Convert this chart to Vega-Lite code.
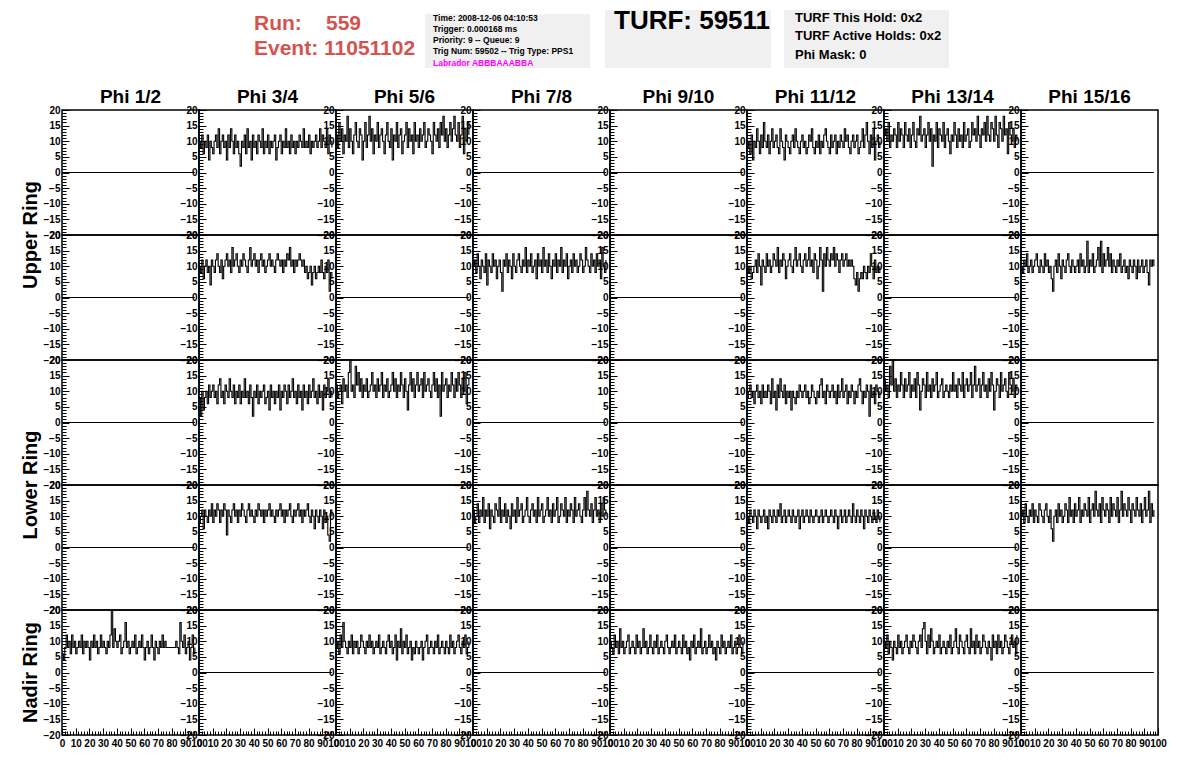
{
  "$schema": "https://vega.github.io/schema/vega-lite/v6.json",
  "padding": 0,
  "background": "white",
  "spacing": 0,
  "bounds": "flush",
  "config": {
    "font": "Liberation Sans",
    "view": {"stroke": "black", "strokeWidth": 1.5}
  },
  "datasets": {
    "xs": [
      {"k": 1, "x": [0,1,2,3,4,5,6,7,8,9,10,11,12,13,14,15,16,17,18,19,20,21,22,23,24,25,26,27,28,29,30,31,32,33,34,35,36,37,38,39,40,41,42,43,44,45,46,47,48,49,50,51,52,53,54,55,56,57,58,59,60,61,62,63,64,65,66,67,68,69,70,71,72,73,74,75,76,77,78,79,80,81,82,83,84,85,86,87,88,89,90,91,92,93,94,95,96,97]},
      {"k": 2, "x": [0, 97]}
    ],
    "panels": [
      {"r": 1, "phi": "Phi 1/2", "k": 2, "y": [0, 0]},
      {"r": 1, "phi": "Phi 3/4", "k": 1, "y": [10,8,12,6,10,8,12,4,10,8,6,10,12,8,14,6,10,12,8,10,4,12,8,14,10,6,12,8,10,6,2,10,8,12,6,14,8,10,4,12,8,10,6,12,10,8,14,6,10,8,12,6,10,8,10,12,4,8,10,12,6,10,8,14,8,10,6,12,8,10,6,10,8,12,10,8,14,8,10,8,12,6,10,8,10,12,8,10,14,8,12,10,8,14,6,12,10,8]},
      {"r": 1, "phi": "Phi 5/6", "k": 1, "y": [12,8,16,10,14,6,12,10,18,8,14,10,6,12,16,10,8,14,12,4,10,16,8,12,18,10,14,6,12,10,16,8,12,14,10,6,12,16,10,8,14,4,12,10,16,8,12,14,6,10,12,16,8,14,10,12,6,16,10,12,8,14,10,12,16,8,10,14,12,10,6,16,12,10,14,8,16,12,18,10,14,8,12,16,10,14,18,12,10,16,8,12,18,6,14,10,16,12]},
      {"r": 1, "phi": "Phi 7/8", "k": 2, "y": [0, 0]},
      {"r": 1, "phi": "Phi 9/10", "k": 2, "y": [0, 0]},
      {"r": 1, "phi": "Phi 11/12", "k": 1, "y": [8,10,6,12,4,10,8,14,10,6,12,8,16,10,8,12,6,10,14,8,10,12,8,6,14,10,8,4,12,10,8,6,10,12,8,14,10,8,6,10,12,8,10,6,8,12,10,14,8,6,10,8,12,6,10,8,12,14,10,8,6,12,8,10,12,6,10,8,12,10,8,14,10,12,8,6,10,12,8,10,12,6,8,10,14,8,12,16,10,6,12,8,14,4,10,12,8,10]},
      {"r": 1, "phi": "Phi 13/14", "k": 1, "y": [12,14,10,16,8,12,10,14,12,8,16,10,14,12,8,16,12,10,14,8,12,16,10,8,14,12,18,10,12,14,8,12,16,10,14,2,12,10,16,8,14,12,10,16,8,12,14,10,6,12,10,16,12,8,14,10,12,8,16,10,12,14,8,10,16,12,14,10,18,12,8,14,12,16,10,18,12,10,16,14,10,18,12,8,16,14,10,18,12,14,6,16,12,10,14,8,12,10]},
      {"r": 1, "phi": "Phi 15/16", "k": 2, "y": [0, 0]},

      {"r": 2, "phi": "Phi 1/2", "k": 2, "y": [0, 0]},
      {"r": 2, "phi": "Phi 3/4", "k": 1, "y": [10,8,12,6,10,12,8,10,4,12,10,8,12,14,10,8,12,6,10,12,14,10,12,8,16,10,12,14,10,8,12,10,14,12,10,8,12,16,10,12,14,10,12,8,12,14,10,12,8,10,12,14,10,12,10,8,12,14,12,10,12,8,12,10,14,12,16,10,12,8,12,10,12,14,12,10,12,8,10,6,8,10,4,8,10,6,8,10,8,12,8,6,10,8,12,2,8,6]},
      {"r": 2, "phi": "Phi 5/6", "k": 2, "y": [0, 0]},
      {"r": 2, "phi": "Phi 7/8", "k": 1, "y": [10,12,8,14,10,6,12,10,8,14,4,12,10,8,14,10,12,6,10,12,8,2,12,10,14,8,12,10,6,14,10,8,12,14,10,8,12,10,16,8,12,10,14,8,10,12,6,14,10,12,8,16,10,12,8,14,10,6,12,10,14,8,12,10,16,8,12,10,14,6,10,12,8,14,10,12,8,10,14,12,8,10,16,12,10,8,14,10,12,8,14,10,12,6,16,10,8,12]},
      {"r": 2, "phi": "Phi 9/10", "k": 2, "y": [0, 0]},
      {"r": 2, "phi": "Phi 11/12", "k": 1, "y": [10,8,10,6,8,10,12,8,14,10,4,12,10,8,14,10,12,8,10,14,12,10,16,8,12,10,14,12,6,10,12,14,10,8,12,16,10,12,14,10,8,12,14,10,12,16,10,12,8,14,12,6,10,16,12,2,14,10,16,12,10,14,12,16,10,14,12,8,12,14,10,12,14,10,12,10,12,10,6,4,8,2,6,8,6,10,8,6,10,8,14,10,6,12,8,10,8,10]},
      {"r": 2, "phi": "Phi 13/14", "k": 2, "y": [0, 0]},
      {"r": 2, "phi": "Phi 15/16", "k": 1, "y": [10,8,12,10,14,8,10,12,8,10,12,14,10,8,12,10,8,14,10,12,8,10,6,2,10,12,8,14,10,6,12,10,8,12,14,10,8,12,10,8,10,12,8,14,10,12,8,10,18,8,12,10,14,8,10,12,16,10,18,8,14,10,12,16,10,14,8,12,10,8,12,10,14,8,10,12,8,10,6,12,10,8,12,10,6,12,8,10,12,8,10,12,8,4,12,10,12,10]},

      {"r": 3, "phi": "Phi 1/2", "k": 2, "y": [0, 0]},
      {"r": 3, "phi": "Phi 3/4", "k": 1, "y": [8,2,10,4,8,10,6,12,8,10,12,8,10,6,12,14,8,10,6,12,10,8,14,10,8,12,6,10,8,12,6,10,8,14,8,10,6,12,8,2,10,8,12,6,10,8,10,12,6,8,10,4,12,8,10,6,10,8,12,4,10,8,12,10,6,12,8,10,14,8,10,6,12,8,10,4,12,8,10,6,12,8,10,14,8,10,6,12,8,10,4,12,8,10,14,8,10,8]},
      {"r": 3, "phi": "Phi 5/6", "k": 1, "y": [12,8,10,12,6,14,10,12,8,16,20,10,12,8,18,12,16,10,14,8,12,10,14,8,10,12,16,10,12,8,14,10,12,16,8,12,10,14,8,10,12,16,10,14,8,12,10,16,12,8,14,10,4,12,16,10,14,8,12,16,10,12,14,8,16,10,12,14,10,8,12,16,10,14,8,12,2,16,10,12,14,8,12,10,16,12,8,14,10,16,12,8,14,10,16,6,12,14]},
      {"r": 3, "phi": "Phi 7/8", "k": 2, "y": [0, 0]},
      {"r": 3, "phi": "Phi 9/10", "k": 2, "y": [0, 0]},
      {"r": 3, "phi": "Phi 11/12", "k": 1, "y": [8,10,12,8,10,6,10,12,8,10,6,12,8,10,8,12,10,6,14,8,10,4,12,8,14,10,8,12,6,10,8,10,4,10,8,6,10,8,12,10,8,10,12,8,10,6,8,12,10,8,6,10,8,12,14,8,10,6,12,10,8,10,12,8,10,6,12,8,10,14,8,10,12,6,10,8,12,10,6,10,8,12,14,10,6,10,8,12,10,2,12,8,10,6,12,10,8,10]},
      {"r": 3, "phi": "Phi 13/14", "k": 1, "y": [14,10,12,8,18,12,20,10,14,8,12,10,16,12,8,14,10,12,16,8,12,10,14,8,16,12,4,10,14,12,8,16,10,12,8,14,10,12,16,8,10,12,14,8,10,12,10,8,12,10,16,10,12,8,14,12,10,16,8,12,14,10,12,16,8,12,18,10,12,14,8,12,16,10,12,8,14,10,16,12,4,10,14,12,8,16,10,12,14,10,8,16,12,10,14,8,12,10]},
      {"r": 3, "phi": "Phi 15/16", "k": 2, "y": [0, 0]},

      {"r": 4, "phi": "Phi 1/2", "k": 2, "y": [0, 0]},
      {"r": 4, "phi": "Phi 3/4", "k": 1, "y": [8,10,12,6,12,10,8,12,10,14,8,12,10,14,12,8,12,10,14,12,4,12,10,8,12,14,10,12,8,12,10,14,12,10,8,12,14,10,12,10,8,12,10,14,12,10,12,8,12,10,12,14,10,12,10,8,12,10,12,14,10,12,8,12,10,12,14,10,8,12,10,12,14,10,12,8,12,10,12,14,10,8,12,10,6,12,10,8,12,10,6,12,8,10,4,2,12,10]},
      {"r": 4, "phi": "Phi 5/6", "k": 2, "y": [0, 0]},
      {"r": 4, "phi": "Phi 7/8", "k": 1, "y": [12,8,10,14,8,12,10,16,8,12,10,14,6,12,10,8,14,12,10,16,8,12,10,14,8,12,10,6,14,10,12,8,16,10,12,14,8,10,12,16,10,8,12,14,10,12,8,16,10,12,14,8,10,12,16,10,12,8,14,10,12,16,8,10,14,12,10,16,8,12,10,14,12,8,16,10,12,14,10,8,12,16,10,18,12,10,14,8,12,16,10,12,8,14,10,16,12,10]},
      {"r": 4, "phi": "Phi 9/10", "k": 2, "y": [0, 0]},
      {"r": 4, "phi": "Phi 11/12", "k": 1, "y": [10,8,12,10,8,12,10,6,12,10,8,10,12,8,10,6,12,10,8,12,10,8,12,10,14,8,10,12,8,10,12,10,8,12,10,8,10,12,6,10,12,8,10,12,10,8,12,10,8,10,12,10,8,10,12,8,10,12,10,8,10,12,10,8,12,10,6,10,12,8,10,12,8,10,12,10,8,14,10,8,12,10,8,12,10,6,12,10,8,12,10,8,12,10,8,12,10,8]},
      {"r": 4, "phi": "Phi 13/14", "k": 2, "y": [0, 0]},
      {"r": 4, "phi": "Phi 15/16", "k": 1, "y": [10,12,8,14,10,8,12,10,14,8,12,10,8,14,12,10,8,12,14,10,8,12,6,2,10,12,8,14,10,12,8,10,14,12,8,16,10,12,8,14,10,12,16,8,12,10,14,12,10,16,8,12,14,10,18,12,10,14,8,16,12,10,14,12,8,16,10,14,12,10,16,8,12,18,10,14,12,10,16,12,8,14,12,10,16,12,10,14,8,12,16,10,12,18,8,14,10,12]},

      {"r": 5, "phi": "Phi 1/2", "k": 1, "y": [6,4,8,12,8,10,6,12,8,10,6,8,10,8,12,6,10,8,10,8,4,10,8,12,8,10,6,8,12,8,10,8,6,10,8,12,20,8,14,10,8,10,12,6,8,10,16,8,10,6,8,10,8,12,6,8,10,8,12,8,4,8,10,6,8,12,8,4,10,8,6,10,8,12,8,10,8,8,8,8,8,8,8,10,8,6,16,10,8,12,6,8,10,4,8,12,6,8]},
      {"r": 5, "phi": "Phi 3/4", "k": 2, "y": [0, 0]},
      {"r": 5, "phi": "Phi 5/6", "k": 1, "y": [8,10,6,12,8,16,10,8,6,10,8,12,6,10,8,10,6,8,12,10,8,6,10,8,12,8,10,6,8,10,8,12,6,8,10,8,6,10,12,8,10,6,8,12,4,10,8,14,6,10,8,12,6,8,10,4,8,6,10,8,6,8,10,4,8,10,12,6,8,10,8,6,10,8,12,6,8,10,8,6,10,8,6,12,8,10,6,8,10,12,8,6,10,8,12,6,8,10]},
      {"r": 5, "phi": "Phi 7/8", "k": 2, "y": [0, 0]},
      {"r": 5, "phi": "Phi 9/10", "k": 1, "y": [10,8,6,12,8,10,6,14,8,10,6,8,10,12,6,8,10,8,6,12,8,10,6,8,14,8,10,6,8,12,8,6,10,8,12,6,8,10,8,6,10,12,8,6,8,10,8,12,6,8,10,8,6,12,8,10,6,8,4,10,8,12,6,8,10,8,14,6,8,10,6,8,12,8,10,6,8,4,10,8,6,12,8,10,6,8,10,8,12,6,8,10,6,8,12,8,6,10]},
      {"r": 5, "phi": "Phi 11/12", "k": 2, "y": [0, 0]},
      {"r": 5, "phi": "Phi 13/14", "k": 1, "y": [10,8,12,6,10,8,4,10,8,6,12,8,10,6,8,10,12,8,6,10,8,12,10,8,6,10,12,8,14,16,10,6,12,8,14,10,6,8,10,8,12,6,8,10,8,6,10,8,12,6,8,10,14,8,6,12,10,8,6,10,12,8,6,14,8,10,6,12,8,10,6,8,12,10,8,6,10,8,4,12,8,10,6,12,8,10,6,8,12,10,8,6,10,12,8,10,6,12]},
      {"r": 5, "phi": "Phi 15/16", "k": 2, "y": [0, 0]}
    ]
  },
  "vconcat": [
    {
      "width": 1196,
      "height": 110,
      "view": {"stroke": null},
      "data": {"values": [{"n": 1}]},
      "layer": [
        {"mark": {"type": "rect", "color": "#f0f0f0"},
         "encoding": {
           "x": {"datum": 425, "type": "quantitative", "scale": {"domain": [0, 1196], "nice": false, "zero": false}, "axis": null},
           "x2": {"datum": 590},
           "y": {"datum": 14, "type": "quantitative", "scale": {"domain": [0, 110], "nice": false, "zero": false, "reverse": true}, "axis": null},
           "y2": {"datum": 68}}},
        {"mark": {"type": "rect", "color": "#f0f0f0"},
         "encoding": {"x": {"datum": 605, "type": "quantitative", "axis": null}, "x2": {"datum": 771}, "y": {"datum": 10, "type": "quantitative", "axis": null}, "y2": {"datum": 68}}},
        {"mark": {"type": "rect", "color": "#f0f0f0"},
         "encoding": {"x": {"datum": 784, "type": "quantitative", "axis": null}, "x2": {"datum": 949}, "y": {"datum": 10, "type": "quantitative", "axis": null}, "y2": {"datum": 68}}},
        {"mark": {"type": "text", "text": "Run:", "fontSize": 21, "fontWeight": "bold", "color": "#d5534e", "align": "left", "baseline": "alphabetic"},
         "encoding": {"x": {"datum": 254, "type": "quantitative", "axis": null}, "y": {"datum": 30, "type": "quantitative", "axis": null}}},
        {"mark": {"type": "text", "text": "559", "fontSize": 21, "fontWeight": "bold", "color": "#d5534e", "align": "left", "baseline": "alphabetic"},
         "encoding": {"x": {"datum": 326, "type": "quantitative", "axis": null}, "y": {"datum": 30, "type": "quantitative", "axis": null}}},
        {"mark": {"type": "text", "text": "Event: 11051102", "fontSize": 21, "fontWeight": "bold", "color": "#d5534e", "align": "left", "baseline": "alphabetic"},
         "encoding": {"x": {"datum": 254, "type": "quantitative", "axis": null}, "y": {"datum": 55, "type": "quantitative", "axis": null}}},
        {"mark": {"type": "text", "text": ["Time: 2008-12-06 04:10:53", "Trigger: 0.000168 ms", "Priority: 9 -- Queue: 9", "Trig Num: 59502 -- Trig Type: PPS1"], "lineHeight": 11.3, "fontSize": 8.5, "fontWeight": "bold", "color": "black", "align": "left", "baseline": "alphabetic"},
         "encoding": {"x": {"datum": 433, "type": "quantitative", "axis": null}, "y": {"datum": 20.5, "type": "quantitative", "axis": null}}},
        {"mark": {"type": "text", "text": "Labrador ABBBAAABBA", "fontSize": 8.5, "fontWeight": "bold", "color": "#ff00ff", "align": "left", "baseline": "alphabetic"},
         "encoding": {"x": {"datum": 433, "type": "quantitative", "axis": null}, "y": {"datum": 65.5, "type": "quantitative", "axis": null}}},
        {"mark": {"type": "text", "text": "TURF: 59511", "fontSize": 26, "fontWeight": "bold", "color": "black", "align": "left", "baseline": "alphabetic"},
         "encoding": {"x": {"datum": 614, "type": "quantitative", "axis": null}, "y": {"datum": 28.5, "type": "quantitative", "axis": null}}},
        {"mark": {"type": "text", "text": ["TURF This Hold: 0x2", "TURF Active Holds: 0x2", "Phi Mask: 0"], "lineHeight": 18.5, "fontSize": 13, "fontWeight": "bold", "color": "black", "align": "left", "baseline": "alphabetic"},
         "encoding": {"x": {"datum": 795, "type": "quantitative", "axis": null}, "y": {"datum": 21.5, "type": "quantitative", "axis": null}}}
      ]
    },
    {
      "hconcat": [
        {
          "width": 62,
          "height": 625,
          "view": {"stroke": null},
          "data": {"values": [{"t": "Upper Ring", "p": 1}, {"t": "Lower Ring", "p": 3}, {"t": "Nadir Ring", "p": 4.5}]},
          "mark": {"type": "text", "angle": 270, "fontSize": 20, "fontWeight": "bold", "align": "center", "baseline": "middle", "color": "black"},
          "encoding": {
            "y": {"field": "p", "type": "quantitative", "scale": {"domain": [0, 5], "reverse": true, "nice": false, "zero": false}, "axis": null},
            "x": {"datum": 0.5, "type": "quantitative", "scale": {"domain": [0, 1], "nice": false}, "axis": null},
            "text": {"field": "t"}
          }
        },
        {
          "data": {"name": "panels"},
          "transform": [
            {"lookup": "k", "from": {"data": {"name": "xs"}, "key": "k", "fields": ["x"]}},
            {"flatten": ["x", "y"]}
          ],
          "facet": {
            "row": {"field": "r", "type": "ordinal", "header": null},
            "column": {"field": "phi", "type": "ordinal",
              "sort": ["Phi 1/2", "Phi 3/4", "Phi 5/6", "Phi 7/8", "Phi 9/10", "Phi 11/12", "Phi 13/14", "Phi 15/16"],
              "header": {"title": null, "labelFontSize": 19, "labelFontWeight": "bold", "labelFont": "Liberation Sans", "labelColor": "black", "labelPadding": 3}}
          },
          "spacing": 0,
          "bounds": "flush",
          "resolve": {"axis": {"y": "independent"}},
          "spec": {
            "width": 137,
            "height": 125,
            "mark": {"type": "line", "interpolate": "step-after", "color": "black", "strokeWidth": 1.1},
            "encoding": {
              "x": {"field": "x", "type": "quantitative",
                "scale": {"domain": [0, 100], "nice": false, "zero": false},
                "axis": {
                  "values": [0,2,4,6,8,10,12,14,16,18,20,22,24,26,28,30,32,34,36,38,40,42,44,46,48,50,52,54,56,58,60,62,64,66,68,70,72,74,76,78,80,82,84,86,88,90,92,94,96,98,100],
                  "labelExpr": "datum.value % 10 === 0 ? datum.label : ''",
                  "tickSize": {"condition": {"test": "datum.value % 10 === 0", "value": -7}, "value": -4},
                  "tickColor": "black", "domain": false, "grid": false, "title": null,
                  "labelFont": "Liberation Sans", "labelFontSize": 10, "labelFontWeight": "bold", "labelColor": "black",
                  "labelPadding": 10, "labelOverlap": false, "labelFlush": false, "labelBound": false
                }},
              "y": {"field": "y", "type": "quantitative",
                "scale": {"domain": [-20, 20], "nice": false, "zero": false},
                "axis": {
                  "values": [-20,-19,-18,-17,-16,-15,-14,-13,-12,-11,-10,-9,-8,-7,-6,-5,-4,-3,-2,-1,0,1,2,3,4,5,6,7,8,9,10,11,12,13,14,15,16,17,18,19,20],
                  "labelExpr": "datum.value % 5 === 0 ? datum.label : ''",
                  "tickSize": {"condition": {"test": "datum.value % 5 === 0", "value": -7}, "value": -4},
                  "tickColor": "black", "domain": false, "grid": false, "title": null,
                  "labelFont": "Liberation Sans", "labelFontSize": 10, "labelFontWeight": "bold", "labelColor": "black",
                  "labelPadding": 9, "labelOverlap": false, "labelFlush": false, "labelBound": false
                }}
            }
          }
        }
      ],
      "spacing": 0,
      "bounds": "flush"
    }
  ]
}
